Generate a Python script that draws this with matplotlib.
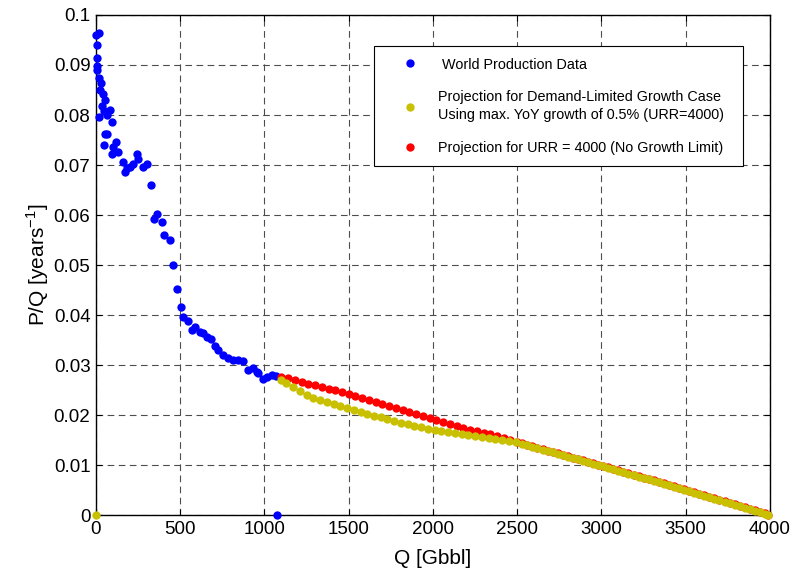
import matplotlib
matplotlib.use("Agg")
import matplotlib.pyplot as plt
from matplotlib.lines import Line2D

plt.rcParams['font.family'] = ['Liberation Sans', 'DejaVu Sans']

# world production data (cumulative Q in Gbbl, P/Q per year)
worldQ = [0, 8, 20, 5, 6, 6, 18, 28, 22, 40, 53, 34, 45, 83, 68, 20, 93, 53, 65, 48,
          119, 103, 133, 93, 162, 172, 185, 202, 220, 242, 251, 281, 301, 325, 345, 364,
          394, 406, 440, 455, 483, 503, 519, 548, 568, 588, 618, 637, 661, 681, 707, 727,
          756, 786, 816, 845, 875, 905, 934, 955, 964, 994, 1014, 1043, 1069, 1073]
worldPQ = [0.0960, 0.0939, 0.0963, 0.0913, 0.0897, 0.0890, 0.0873, 0.0863, 0.0849, 0.0842,
           0.0830, 0.0817, 0.0808, 0.0810, 0.0800, 0.0797, 0.0787, 0.0763, 0.0763, 0.0740,
           0.0747, 0.0737, 0.0727, 0.0723, 0.0707, 0.0687, 0.0695, 0.0697, 0.0703, 0.0722,
           0.0713, 0.0697, 0.0703, 0.0660, 0.0593, 0.0602, 0.0587, 0.0561, 0.0551, 0.0500,
           0.0453, 0.0417, 0.0397, 0.0389, 0.0370, 0.0377, 0.0367, 0.0365, 0.0357, 0.0353,
           0.0338, 0.0330, 0.0320, 0.0315, 0.0311, 0.0310, 0.0308, 0.0291, 0.0295, 0.0287,
           0.0285, 0.0273, 0.0277, 0.0280, 0.0278, 0.0]

# projection with no growth limit (URR = 4000)
noLimitQ = [1100, 1140, 1180, 1220, 1260, 1300, 1340, 1380, 1420, 1460, 1500, 1540, 1580,
            1620, 1660, 1700, 1740, 1780, 1820, 1860, 1900, 1940, 1980, 2020, 2060, 2100,
            2140, 2180, 2220, 2260, 2300, 2340, 2380, 2420, 2460, 2500, 2530, 2560, 2590,
            2620, 2650, 2680, 2710, 2740, 2770, 2800, 2830, 2860, 2890, 2920, 2950, 2980,
            3010, 3040, 3070, 3100, 3130, 3160, 3190, 3220, 3250, 3280, 3310, 3340, 3370,
            3400, 3430, 3460, 3490, 3520, 3550, 3580, 3610, 3640, 3670, 3700, 3730, 3760,
            3790, 3820, 3850, 3880, 3910, 3940, 3970, 3990]
noLimitPQ = [0.0277, 0.0274, 0.0270, 0.0267, 0.0263, 0.0260, 0.0257, 0.0253, 0.0250, 0.0246,
             0.0243, 0.0239, 0.0235, 0.0231, 0.0227, 0.0223, 0.0219, 0.0215, 0.0210, 0.0206,
             0.0202, 0.0199, 0.0195, 0.0191, 0.0187, 0.0183, 0.0179, 0.0175, 0.0171, 0.0168,
             0.0165, 0.0162, 0.0159, 0.0155, 0.0151, 0.0147, 0.0144, 0.0141, 0.0138, 0.0135,
             0.0132, 0.0129, 0.0126, 0.0124, 0.0121, 0.0118, 0.0115, 0.0112, 0.0110, 0.0107,
             0.0104, 0.0101, 0.0099, 0.0096, 0.0093, 0.0090, 0.0087, 0.0084, 0.0081, 0.0078,
             0.0075, 0.0072, 0.0070, 0.0067, 0.0064, 0.0061, 0.0058, 0.0055, 0.0052, 0.0049,
             0.0046, 0.0043, 0.0040, 0.0037, 0.0034, 0.0031, 0.0028, 0.0025, 0.0022, 0.0019,
             0.0016, 0.0013, 0.0010, 0.0007, 0.0004, 0.0001]

# projection for demand-limited growth (0.5% YoY, URR = 4000)
demandQ = [0, 1100, 1130, 1170, 1210, 1250, 1290, 1330, 1370, 1410, 1450, 1490, 1530, 1570,
           1610, 1650, 1690, 1730, 1770, 1810, 1850, 1890, 1930, 1970, 2010, 2050, 2090,
           2130, 2170, 2210, 2250, 2290, 2330, 2370, 2410, 2450, 2490, 2530, 2560, 2590,
           2620, 2650, 2680, 2710, 2740, 2770, 2800, 2830, 2860, 2890, 2920, 2950, 2980,
           3010, 3040, 3070, 3100, 3130, 3160, 3190, 3220, 3250, 3280, 3310, 3340, 3370,
           3400, 3430, 3460, 3490, 3520, 3550, 3580, 3610, 3640, 3670, 3700, 3730, 3760,
           3790, 3820, 3850, 3880, 3910, 3940, 3970, 3990]
demandPQ = [0.0, 0.0271, 0.0264, 0.0257, 0.0249, 0.0241, 0.0235, 0.0230, 0.0226, 0.0222,
            0.0218, 0.0214, 0.0210, 0.0206, 0.0203, 0.0199, 0.0196, 0.0192, 0.0188, 0.0184,
            0.0182, 0.0179, 0.0176, 0.0173, 0.0170, 0.0168, 0.0166, 0.0164, 0.0162, 0.0160,
            0.0158, 0.0156, 0.0154, 0.0152, 0.0151, 0.0149, 0.0146, 0.0143, 0.0140, 0.0137,
            0.0134, 0.0131, 0.0128, 0.0126, 0.0123, 0.0120, 0.0117, 0.0114, 0.0112, 0.0109,
            0.0106, 0.0103, 0.0100, 0.0098, 0.0095, 0.0092, 0.0089, 0.0086, 0.0083, 0.0080,
            0.0077, 0.0074, 0.0072, 0.0069, 0.0066, 0.0063, 0.0060, 0.0057, 0.0054, 0.0051,
            0.0048, 0.0045, 0.0042, 0.0039, 0.0036, 0.0033, 0.0030, 0.0027, 0.0024, 0.0021,
            0.0018, 0.0015, 0.0012, 0.0009, 0.0006, 0.0003, 0.0001]

xTicks = [0, 500, 1000, 1500, 2000, 2500, 3000, 3500, 4000]
yTicks = [0, 0.01, 0.02, 0.03, 0.04, 0.05, 0.06, 0.07, 0.08, 0.09, 0.1]
yTickLabels = ["0", "0.01", "0.02", "0.03", "0.04", "0.05", "0.06", "0.07", "0.08", "0.09", "0.1"]

blue, yellow, red = "#0000ff", "#c8c000", "#ff0000"
ms = 6

fig = plt.figure(figsize=(7.93, 5.75), dpi=100)
ax = fig.add_axes([0.121, 0.104, 0.850, 0.870])

ax.plot(worldQ, worldPQ, "o", color=blue, ms=ms, mec="none", zorder=3, clip_on=False)
ax.plot(noLimitQ, noLimitPQ, "o", color=red, ms=ms, mec="none", zorder=3, clip_on=False)
ax.plot(demandQ, demandPQ, "o", color=yellow, ms=ms, mec="none", zorder=4, clip_on=False)

ax.set_xlim(0, 4000)
ax.set_ylim(0, 0.1)
ax.set_xticks(xTicks)
ax.set_xticklabels([str(t) for t in xTicks])
ax.set_yticks(yTicks)
ax.set_yticklabels(yTickLabels)
ax.tick_params(direction="in", length=4, width=0.8, labelsize=13.5, top=True, right=True, pad=4)
ax.grid(True, color="0.3", linestyle=(0, (6, 4)), linewidth=0.8)
for s in ax.spines.values():
    s.set_linewidth(1.0)
    s.set_color("black")

ax.set_xlabel("Q [Gbbl]", fontsize=15, labelpad=8)
ax.set_ylabel(r"P/Q [years$^{\mathregular{-1}}$]", fontsize=15, labelpad=2)

handles = [Line2D([], [], marker="o", ls="none", color=blue, mec="none", ms=ms),
           Line2D([], [], marker="o", ls="none", color=yellow, mec="none", ms=ms),
           Line2D([], [], marker="o", ls="none", color=red, mec="none", ms=ms)]
labels = [" World Production Data",
          "Projection for Demand-Limited Growth Case\nUsing max. YoY growth of 0.5% (URR=4000)",
          "Projection for URR = 4000 (No Growth Limit)"]
leg = ax.legend(handles, labels, loc="upper left", bbox_to_anchor=(0.4125, 0.704, 0.5475, 0.234),
                mode="expand", borderaxespad=0, fontsize=10.4, frameon=True, fancybox=False,
                framealpha=1, edgecolor="black", borderpad=0.8, labelspacing=1.3,
                handletextpad=0.2, handlelength=3.4)
for t in leg.get_texts():
    t.set_linespacing(1.35)
leg.get_frame().set_linewidth(0.8)
leg.set_zorder(5)

fig.savefig("out.png", dpi=100)
